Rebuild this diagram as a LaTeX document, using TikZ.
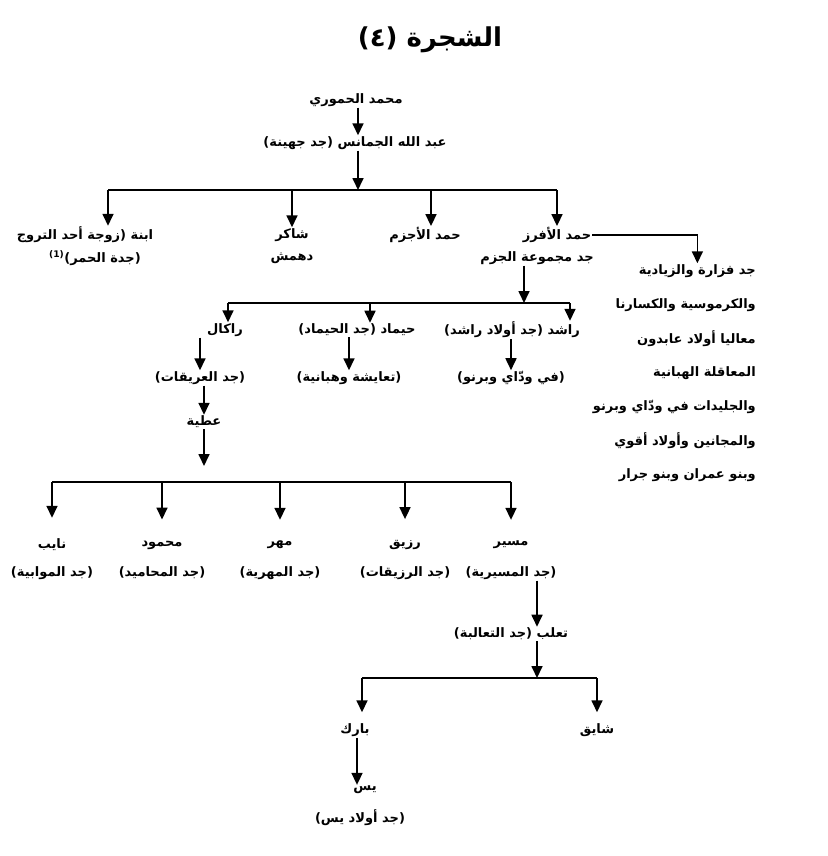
\documentclass[tikz,border=0pt]{standalone}
\usepackage{fontspec}
\usetikzlibrary{arrows.meta}
\newfontfamily\arabicfont[Script=Arabic]{DejaVu Sans}
\TeXXeTstate=1
\newcommand{\ar}[1]{\beginR #1\endR}

\tikzset{
  person/.style={font=\arabicfont\bfseries\fontsize{13}{15}\selectfont, inner sep=1pt},
  link/.style={line width=1.7pt, -{Triangle[length=12pt,width=11pt]}},
  bar/.style={line width=1.7pt},
}

\begin{document}
\begin{tikzpicture}[x=1pt,y=-1pt]
\useasboundingbox (0,0) rectangle (827,856);

\node[person, font=\arabicfont\bfseries\fontsize{26}{30}\selectfont] (title) at (430,40) {\ar{الشجرة (٤)}};

% top of the tree
\node[person] (hamuri) at (356,100) {\ar{محمد الحموري}};
\node[person] (jamanis) at (355,143) {\ar{عبد الله الجمانس (جد جهينة)}};
\coordinate (b1) at (358,190);
\draw[link] (hamuri.south -| b1) -- (jamanis.north -| b1);
\draw[link] (jamanis.south -| b1) -- (b1);

\node[person] (ibna) at (85,235) {\ar{ابنة (زوجة أحد التروج}};
\node[person] (ibna2) at (95,258) {\ar{(جدة الحمر)\beginL\textsuperscript{(1)}\endL}};
\node[person] (shakir) at (292,235) {\ar{شاكر}};
\node[person] (shakir2) at (292,258) {\ar{دهمش}};
\node[person] (ajzam) at (425,235) {\ar{حمد الأجزم}};
\node[person] (afraz) at (557,235) {\ar{حمد الأفرز}};
\node[person] (afraz2) at (537,258) {\ar{جد مجموعة الجزم}};
\foreach \n/\x in {ibna/108,shakir/292,ajzam/431,afraz/557}
{\coordinate (t\n) at (\x,190);
\draw[link] (t\n) -- (t\n |- \n.north);}
\draw[bar] (tibna) -- (tafraz);

% descendants of hamd al-afraz
\foreach \t [count=\i] in {جد فزارة والزيادية, والكرموسية والكسارنا, معاليا أولاد عابدون, المعاقلة الهبانية, والجليدات في ودّاي وبرنو, والمجانين وأولاد أقوي, وبنو عمران وبنو جرار}
\node[person, anchor=east] (f\i) at (757,237+34*\i) {\ar{\t}};
\draw[link] (afraz.east) -| (f1.north);

\coordinate (b2) at (524,303);
\draw[link] (afraz2.south -| b2) -- (b2);
\node[person] (rakal) at (225,330) {\ar{راكال}};
\node[person] (hiymad) at (357,330) {\ar{حيماد (جد الحيماد)}};
\node[person] (rashid) at (512,330) {\ar{راشد (جد أولاد راشد)}};
\foreach \n/\x in {rakal/228,hiymad/370,rashid/570}
{\coordinate (t\n) at (\x,303);
\draw[link] (t\n) -- (t\n |- \n.north);}
\draw[bar] (trakal) -- (trashid);

\node[person] (rakal2) at (200,378) {\ar{(جد العريقات)}};
\node[person] (hiymad2) at (349,378) {\ar{(تعايشة وهبانية)}};
\node[person] (rashid2) at (511,378) {\ar{(في ودّاي وبرنو)}};
\foreach \n in {rakal,hiymad,rashid}
\draw[link] (\n.south -| \n2.north) -- (\n2.north);

\node[person] (atiya) at (204,422) {\ar{عطية}};
\draw[link] (rakal2.south -| atiya.north) -- (atiya.north);
\coordinate (b3) at (204,482);
\draw[link] (atiya.south -| b3) -- ([yshift=16pt]b3);

% sons of atiya
\foreach \n/\x/\a/\b in {nayib/52/نايب/(جد الموابية), mahmud/162/محمود/(جد المحاميد), mahr/280/مهر/(جد المهرية), ruzayq/405/رزيق/(جد الرزيقات), musayyir/511/مسير/(جد المسيرية)}
{\node[person] (\n) at (\x,545) {\ar{\a}};
\node[person] (\n2) at (\x,573) {\ar{\b}};
\coordinate (t\n) at (\x,482);
\draw[link, shorten >=20pt] (t\n) -- (\n.north);}
\draw[bar] (tnayib) -- (tmusayyir);

\node[person] (thaalib) at (511,634) {\ar{تعلب (جد التعالبة)}};
\coordinate (b4) at (537,678);
\draw[link] (musayyir2.south -| b4) -- (thaalib.north -| b4);
\draw[link] (thaalib.south -| b4) -- (b4);

\node[person] (barik) at (355,730) {\ar{بارك}};
\node[person] (shayiq) at (597,730) {\ar{شايق}};
\foreach \n/\x in {barik/362,shayiq/597}
{\coordinate (t\n) at (\x,678);
\draw[link, shorten >=10pt] (t\n) -- (t\n |- \n.north);}
\draw[bar] (tbarik) -- (tshayiq);

\node[person] (yas) at (365,790) {\ar{يس}};
\node[person] (yas2) at (360,818) {\ar{(جد أولاد يس)}};
\coordinate (byas) at (357,760);
\draw[link] (barik.south -| byas) -- (yas.north -| byas);
\end{tikzpicture}
\end{document}
